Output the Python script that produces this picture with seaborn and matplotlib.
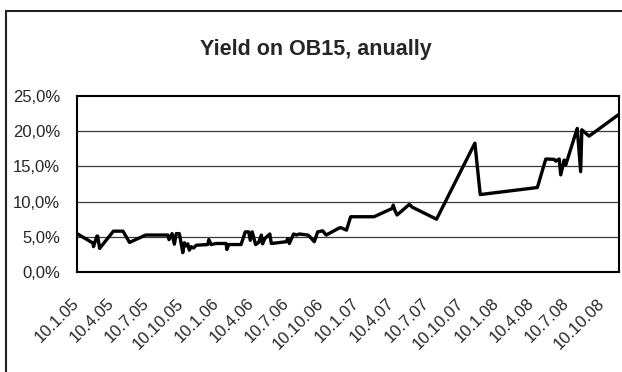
import matplotlib
matplotlib.use("Agg")
import matplotlib.pyplot as plt
from matplotlib.patches import Rectangle
import pandas as pd
import seaborn as sns

# Observation dates and annual yield (%) of the OB15 bond
dates = [
    "2005-01-10", "2005-02-21", "2005-02-22", "2005-03-03", "2005-03-05",
    "2005-03-10", "2005-04-15", "2005-05-10", "2005-05-27", "2005-07-08",
    "2005-09-04", "2005-09-07", "2005-09-15", "2005-09-21", "2005-09-26",
    "2005-10-04", "2005-10-13", "2005-10-17", "2005-10-22", "2005-10-26",
    "2005-10-30", "2005-11-04", "2005-11-10", "2005-11-17", "2005-12-17",
    "2005-12-20", "2005-12-26", "2006-01-08", "2006-02-03", "2006-02-05",
    "2006-02-10", "2006-03-14", "2006-03-25", "2006-04-03", "2006-04-07",
    "2006-04-12", "2006-04-21", "2006-04-29", "2006-05-06", "2006-05-09",
    "2006-05-15", "2006-05-28", "2006-06-01", "2006-07-10", "2006-07-14",
    "2006-07-18", "2006-07-29", "2006-08-06", "2006-08-13", "2006-09-04",
    "2006-09-08", "2006-09-21", "2006-09-30", "2006-10-13", "2006-10-22",
    "2006-11-25", "2006-11-29", "2006-12-14", "2006-12-25", "2007-02-24",
    "2007-04-13", "2007-04-15", "2007-04-19", "2007-04-25", "2007-05-27",
    "2007-06-04", "2007-08-06", "2007-11-14", "2007-11-28", "2008-04-25",
    "2008-05-17", "2008-06-08", "2008-06-12", "2008-06-21", "2008-06-25",
    "2008-07-04", "2008-07-08", "2008-08-07", "2008-08-16", "2008-08-19",
    "2008-09-07", "2008-11-24",
]
yields = [
    5.45, 4.1, 3.6, 5.1, 5.1,
    3.35, 5.8, 5.8, 4.2, 5.25,
    5.25, 4.6, 5.45, 3.95, 5.45,
    5.45, 2.75, 4.15, 3.7, 4.0,
    3.1, 3.6, 3.4, 3.8, 3.9,
    4.6, 3.9, 4.05, 4.05, 3.2,
    3.9, 3.9, 5.7, 5.7, 4.5,
    5.7, 3.9, 4.2, 5.25, 4.0,
    4.75, 5.4, 4.05, 4.3, 4.75,
    4.05, 5.4, 5.25, 5.4, 5.25,
    5.1, 4.3, 5.7, 5.85, 5.25,
    6.25, 6.3, 5.95, 7.85, 7.85,
    9.05, 9.5, 8.8, 8.1, 9.6,
    9.2, 7.5, 18.3, 11.0, 12.0,
    16.05, 16.0, 15.75, 16.05, 13.8,
    15.9, 15.2, 20.4, 14.25, 20.2,
    19.3, 22.4,
]

x_tick_labels = [
    "10.1.05", "10.4.05", "10.7.05", "10.10.05",
    "10.1.06", "10.4.06", "10.7.06", "10.10.06",
    "10.1.07", "10.4.07", "10.7.07", "10.10.07",
    "10.1.08", "10.4.08", "10.7.08", "10.10.08",
]
y_ticks = [0, 5, 10, 15, 20, 25]
y_tick_labels = ["0,0%", "5,0%", "10,0%", "15,0%", "20,0%", "25,0%"]

df = pd.DataFrame({"date": pd.to_datetime(dates), "yield": yields})
x_ticks = pd.to_datetime(x_tick_labels, format="%d.%m.%y")

sns.set_style("white")
plt.rcParams["font.family"] = ["Liberation Sans", "DejaVu Sans"]

W, H = 622, 372
fig = plt.figure(figsize=(W / 100, H / 100), dpi=100)

# outer chart frame (open towards the right and bottom edges)
fig.patches.append(Rectangle((6 / W, -0.2), 1.2, 1.2 - 11 / H,
                             transform=fig.transFigure, fill=False,
                             edgecolor="#222222", linewidth=1.5))

left, right, top, bottom = 77, 619, 96, 272
ax = fig.add_axes([left / W, 1 - bottom / H, (right - left) / W, (bottom - top) / H])

for y in y_ticks[1:-1]:
    ax.axhline(y, color="#3a3a3a", linewidth=0.9, zorder=1)

sns.lineplot(data=df, x="date", y="yield", ax=ax, color="black",
             linewidth=2.4, zorder=3)

ax.set_xlim(df["date"].iloc[0], df["date"].iloc[-1])
ax.set_ylim(0, 25)
ax.set_xlabel("")
ax.set_ylabel("")

ax.set_yticks(y_ticks)
ax.set_yticklabels(y_tick_labels, fontsize=12)
ax.set_xticks(x_ticks)
ax.set_xticklabels(x_tick_labels, fontsize=12, rotation=45,
                   ha="right", va="center", rotation_mode="anchor")
ax.tick_params(axis="both", direction="out", length=5, width=0.8,
               color="#333333")
ax.tick_params(axis="y", pad=7)
ax.tick_params(axis="x", pad=16)

for s in ax.spines.values():
    s.set_visible(True)
    s.set_color("black")
    s.set_linewidth(1.5)

fig.text(315.5 / W, 1 - 55 / H, "Yield on OB15, anually", ha="center",
         va="baseline", fontsize=15.5, fontweight="bold")

fig.savefig("out.png", dpi=100)
